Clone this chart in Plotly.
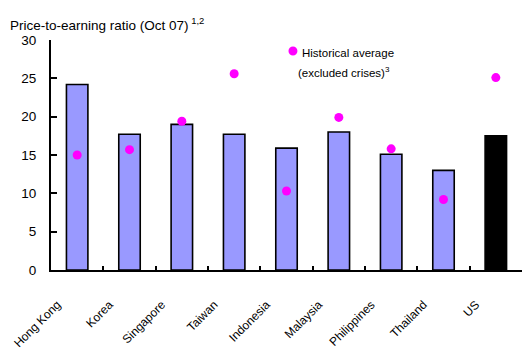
import plotly.graph_objects as go

# Price-to-earnings ratios, October 2007, with each market's historical average
countries = ["Hong Kong", "Korea", "Singapore", "Taiwan", "Indonesia",
             "Malaysia", "Philippines", "Thailand", "US"]
pe_oct07 = [24.2, 17.7, 19.0, 17.7, 15.9, 18.0, 15.1, 13.0, 17.5]
hist_avg = [15.0, 15.7, 19.4, 25.6, 10.3, 19.9, 15.8, 9.2, 25.1]
y_ticks = [0, 5, 10, 15, 20, 25, 30]

FONT = "Liberation Sans, Arial, sans-serif"
BAR_BLUE = "#9999FF"
MAGENTA = "#FF00FF"

bar_colors = [BAR_BLUE] * (len(countries) - 1) + ["#000000"]

fig = go.Figure()
fig.add_trace(go.Bar(
    x=countries, y=pe_oct07, width=0.41,
    marker=dict(color=bar_colors, line=dict(color="#000000", width=1.6)),
    showlegend=False,
))
fig.add_trace(go.Scatter(
    x=countries, y=hist_avg, mode="markers",
    marker=dict(color=MAGENTA, size=9, line=dict(width=0)),
    name="Historical average", showlegend=False,
))

# Legend key drawn by hand so the dot sits right beside its label
fig.add_shape(type="circle", xref="paper", yref="paper",
              x0=0.5042, x1=0.5232, y0=0.9325, y1=0.9715,
              fillcolor=MAGENTA, line=dict(width=0))
fig.add_annotation(xref="paper", yref="paper", x=0.529, y=0.943,
                   xanchor="left", yanchor="middle", showarrow=False,
                   text="Historical average",
                   font=dict(family=FONT, size=11.5, color="#000000"))
fig.add_annotation(xref="paper", yref="paper", x=0.5205, y=0.862,
                   xanchor="left", yanchor="middle", showarrow=False,
                   text="(excluded crises)<sup>3</sup>",
                   font=dict(family=FONT, size=11.5, color="#000000"))

# Axis title above the value axis
fig.add_annotation(xref="paper", yref="paper", x=-0.092, y=1.068,
                   xanchor="left", yanchor="middle", showarrow=False,
                   text="Price-to-earning ratio (Oct 07)<sup> 1,2</sup>",
                   font=dict(family=FONT, size=13.5, color="#000000"))

fig.update_layout(
    width=524, height=350,
    margin=dict(l=51, r=2, t=40, b=80),
    paper_bgcolor="white", plot_bgcolor="white",
    bargap=0.59,
    font=dict(family=FONT, size=13.5, color="#000000"),
)
fig.update_xaxes(
    type="category", range=[-0.5, 8.5], automargin=False,
    showline=True, linecolor="#000000", linewidth=2,
    ticks="inside", tickson="boundaries", ticklen=4, tickwidth=1.5,
    tickcolor="#000000",
    tickangle=-45, ticklabelstandoff=21, ticklabelshift=-20,
    tickfont=dict(family=FONT, size=12, color="#000000"),
    showgrid=False, zeroline=False,
)
fig.update_yaxes(
    range=[0, 30], tickvals=y_ticks, automargin=False,
    showline=True, linecolor="#000000", linewidth=2,
    ticks="inside", ticklen=6, tickwidth=1.5, tickcolor="#000000",
    tickfont=dict(family=FONT, size=13.5, color="#000000"),
    ticklabelstandoff=10,
    showgrid=False, zeroline=False,
)

fig.write_html("out.html")
